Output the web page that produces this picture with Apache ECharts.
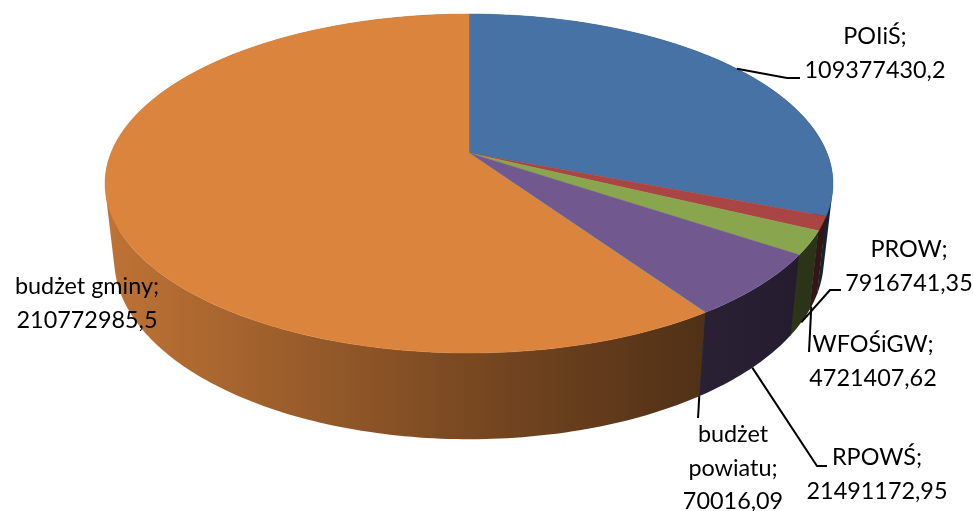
<!DOCTYPE html>
<html>
<head>
<meta charset="utf-8">
<style>
  html, body { margin: 0; padding: 0; background: #fff; }
  #chart { width: 974px; height: 511px; }
</style>
<script src="https://cdn.jsdelivr.net/npm/echarts@6/dist/echarts.min.js"></script>
</head>
<body>
<div id="chart"></div>
<script>
// Funding sources, clockwise from twelve o'clock
const categories = ['POIiŚ', 'WFOŚiGW', 'PROW', 'RPOWŚ', 'budżet\npowiatu', 'budżet gminy'];
const amounts = [109377430.2, 4721407.62, 7916741.35, 21491172.95, 70016.09, 210772985.5];
const sliceColors = ['#4672A6', '#A94543', '#89A54E', '#71588F', '#4198AF', '#DB843D'];

// Label centre for each slice (x, y of the first text line, in pixels)
const labelCentres = [[875, 37], [873, 345], [909, 250], [877, 458], [733, 435], [87, 287]];
// Leader routing: knee and end of each line; null means the label has no leader
const leaderBends = [
  [[787, 78], [800, 78]],
  [[809, 352]],
  [[830, 290], [841, 290]],
  [[817, 466], [827, 466]],
  [[698, 418]],
  null
];
// Leaders start on the upper rim for slices whose edge faces away, otherwise on the lower rim
const leaderOnTopRim = [true, false, false, false, false, false];
// Shift of a leader's start along the rim, in degrees from the middle of its slice
const leaderNudge = [0, 1.5, 0, 0, 0, 0];

// Perspective parameters of the disc
const CENTER_X = 469;
const PERSPECTIVE = 0.18;
const TOP_RIM = { rx: 358, ry: 164, cy: 153 };
const BOTTOM_RIM = { rx: 349, ry: 174, cy: 227 };
const WALL_OVERLAP = 0.005;

const total = amounts.reduce((a, b) => a + b, 0);
const spans = [];
amounts.reduce((sum, v) => {
  spans.push([sum / total * 2 * Math.PI, (sum + v) / total * 2 * Math.PI]);
  return sum + v;
}, 0);

// Angle is measured clockwise from the far side of the disc
function project(angle, rim) {
  const X = Math.sin(angle), Y = -Math.cos(angle);
  const w = 1 - PERSPECTIVE * Y;
  return [CENTER_X + rim.rx * X / w, rim.cy + rim.ry * Y / w];
}

function arcAngles(a0, a1) {
  const n = Math.max(1, Math.ceil((a1 - a0) / (Math.PI / 180)));
  const out = [];
  for (let i = 0; i <= n; i++) out.push(a0 + (a1 - a0) * i / n);
  return out;
}

function shade(hex, f) {
  const c = [1, 3, 5].map(p => Math.round(parseInt(hex.substr(p, 2), 16) * f));
  return 'rgb(' + c.join(',') + ')';
}

// Side wall light falls off from left to right across the whole disc
function wallFill(hex) {
  return new echarts.graphic.LinearGradient(105, 0, 833, 0, [
    { offset: 0, color: shade(hex, 0.87) },
    { offset: 0.48, color: shade(hex, 0.56) },
    { offset: 0.8, color: shade(hex, 0.38) },
    { offset: 1, color: shade(hex, 0.3) }
  ], true);
}

function formatAmount(v) {
  return String(v).replace('.', ',');
}

function signedArea(p) {
  let area = 0;
  for (let i = 0; i < p.length; i++) {
    const q = p[(i + 1) % p.length];
    area += p[i][0] * q[1] - q[0] * p[i][1];
  }
  return area;
}

// Quad as an SVG subpath, always wound the same way so a single fill covers the union
function quadPath(p) {
  const pts = signedArea(p) < 0 ? p.slice().reverse() : p;
  return 'M' + pts.map(c => c[0].toFixed(2) + ' ' + c[1].toFixed(2)).join('L') + 'Z';
}

const seriesData = categories.map((name, i) => ({ name, value: amounts[i] }));

// Slices that stay on one side of the silhouette get a plain outline;
// the ones wrapping round it are filled as a union of narrow quads
const renderWall = (params) => {
  const i = params.dataIndex;
  const angles = arcAngles(spans[i][0], spans[i][1] + WALL_OVERLAP);
  const quads = [];
  for (let k = 0; k < angles.length - 1; k++) {
    quads.push([
      project(angles[k], TOP_RIM), project(angles[k + 1], TOP_RIM),
      project(angles[k + 1], BOTTOM_RIM), project(angles[k], BOTTOM_RIM)
    ]);
  }
  const fill = wallFill(sliceColors[i]);
  const signs = quads.map(q => Math.sign(signedArea(q)));
  if (signs.every(s => s === signs[0])) {
    const points = angles.map(a => project(a, TOP_RIM))
      .concat(angles.slice().reverse().map(a => project(a, BOTTOM_RIM)));
    return { type: 'polygon', silent: true, shape: { points }, style: { fill } };
  }
  return {
    type: 'path', silent: true,
    shape: { pathData: quads.map(quadPath).join('') },
    style: { fill }
  };
};

const renderTop = (params) => {
  const i = params.dataIndex;
  const points = [[CENTER_X, TOP_RIM.cy]].concat(
    arcAngles(spans[i][0], spans[i][1]).map(a => project(a, TOP_RIM))
  );
  return {
    type: 'polygon', silent: true,
    shape: { points },
    style: { fill: sliceColors[i], stroke: sliceColors[i], lineWidth: 0.5 }
  };
};

const renderLabel = (params) => {
  const i = params.dataIndex;
  const [a0, a1] = spans[i];
  const children = [];
  if (leaderBends[i]) {
    const mid = (a0 + a1) / 2 + leaderNudge[i] * Math.PI / 180;
    const start = project(mid, leaderOnTopRim[i] ? TOP_RIM : BOTTOM_RIM);
    children.push({
      type: 'polyline', silent: true,
      shape: { points: [start].concat(leaderBends[i]) },
      style: { fill: null, stroke: '#000', lineWidth: 2 }
    });
  }
  children.push({
    type: 'text', silent: true,
    style: {
      x: labelCentres[i][0], y: labelCentres[i][1] - 17,
      text: categories[i] + ';\n' + formatAmount(amounts[i]),
      align: 'center', verticalAlign: 'top',
      fontFamily: 'Lato', fontSize: 23.4, lineHeight: 33.5,
      fill: '#000'
    }
  });
  return { type: 'group', children };
};

const chart = echarts.init(document.getElementById('chart'), null, { renderer: 'canvas' });
chart.setOption({
  backgroundColor: '#fff',
  animation: false,
  series: [
    { type: 'custom', coordinateSystem: 'none', data: seriesData, renderItem: renderWall, z: 1 },
    { type: 'custom', coordinateSystem: 'none', data: seriesData, renderItem: renderTop, z: 2 },
    { type: 'custom', coordinateSystem: 'none', data: seriesData, renderItem: renderLabel, z: 3 }
  ]
});
</script>
</body>
</html>
